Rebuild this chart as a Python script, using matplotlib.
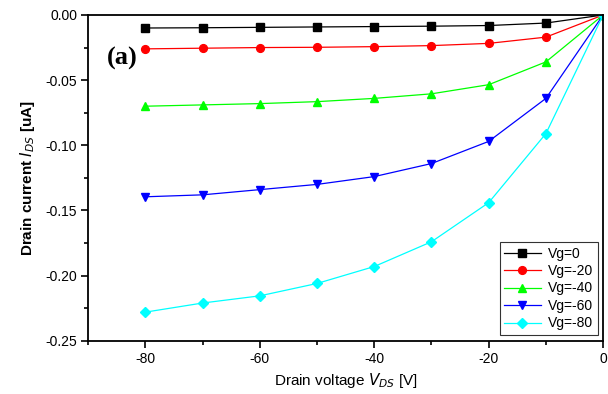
import matplotlib
matplotlib.use("Agg")
import matplotlib.pyplot as plt
from matplotlib.ticker import MultipleLocator

plt.rcParams["font.family"] = ["Liberation Sans", "DejaVu Sans"]

vds = [-80, -70, -60, -50, -40, -30, -20, -10, 0]
id_vg0 = [-0.010, -0.0098, -0.0095, -0.0092, -0.0089, -0.0086, -0.0081, -0.0062, 0.0]
id_vg20 = [-0.026, -0.0255, -0.0250, -0.0248, -0.0243, -0.0235, -0.0218, -0.0170, 0.0]
id_vg40 = [-0.070, -0.069, -0.068, -0.0665, -0.064, -0.0605, -0.0535, -0.036, 0.0]
id_vg60 = [-0.1395, -0.138, -0.134, -0.130, -0.124, -0.114, -0.097, -0.064, 0.0]
id_vg80 = [-0.228, -0.221, -0.2155, -0.206, -0.193, -0.174, -0.144, -0.091, 0.0]

series = [
    ("Vg=0", id_vg0, "black", "s"),
    ("Vg=-20", id_vg20, "red", "o"),
    ("Vg=-40", id_vg40, "#00ff00", "^"),
    ("Vg=-60", id_vg60, "blue", "v"),
    ("Vg=-80", id_vg80, "cyan", "D"),
]

fig = plt.figure(figsize=(6.08, 3.94), dpi=100)
ax = fig.add_axes([0.145, 0.135, 0.847, 0.827])

for label, y, c, m in series:
    ms = 4.8 if m == "D" else 5.6
    ax.plot(vds, y, color=c, marker=m, markersize=ms, lw=0.9,
            markeredgecolor=c, label=label)

ax.set_xlim(-90, 0)
ax.set_ylim(-0.25, 0.0)
ax.xaxis.set_major_locator(MultipleLocator(20))
ax.xaxis.set_minor_locator(MultipleLocator(10))
ax.yaxis.set_major_locator(MultipleLocator(0.05))
ax.yaxis.set_minor_locator(MultipleLocator(0.025))
ax.set_xticks([-80, -60, -40, -20, 0])
ax.set_xticklabels(["-80", "-60", "-40", "-20", "0"])
ax.yaxis.set_major_formatter(plt.FormatStrFormatter("%.2f"))
ax.tick_params(which="major", direction="out", length=5, width=1.2,
               labelsize=10, colors="black", pad=3)
ax.tick_params(which="minor", direction="out", length=3, width=1.2)
ax.tick_params(top=False, right=False)
for s in ax.spines.values():
    s.set_linewidth(1.3)

ax.set_xlabel("Drain voltage $V_{DS}$ [V]", fontsize=11, labelpad=4)
ax.set_ylabel("Drain current $I_{DS}$ [uA]", fontsize=11, fontweight="bold",
              labelpad=6)

ax.text(0.066, 0.868, "(a)", transform=ax.transAxes, fontsize=19,
        fontweight="bold", family="Liberation Serif", ha="center",
        va="center")

leg = ax.legend(loc="lower right", fontsize=10, frameon=True, fancybox=False,
                edgecolor="black", borderaxespad=0.4, handlelength=2.6,
                labelspacing=0.25, borderpad=0.35, handletextpad=0.5)
leg.get_frame().set_linewidth(0.8)

fig.savefig("out.png", dpi=100)
